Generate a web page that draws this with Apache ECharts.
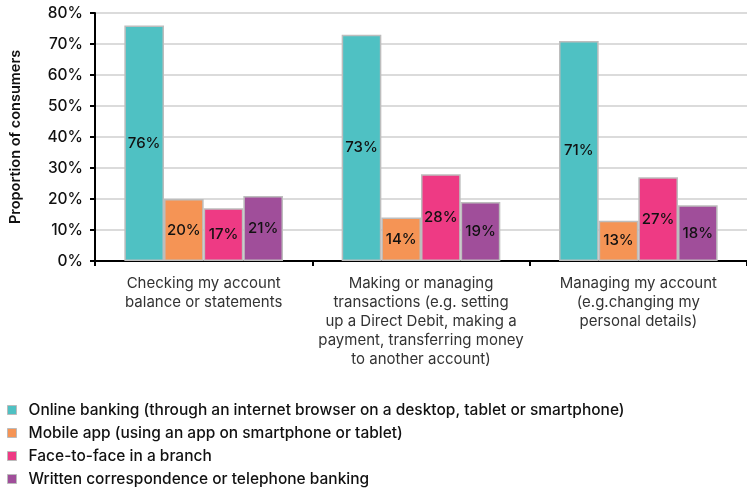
<!DOCTYPE html>
<html><head><meta charset="utf-8">
<script src="https://cdn.jsdelivr.net/npm/echarts@6/dist/echarts.min.js"></script>
<style>html,body{margin:0;padding:0;background:#fff}#c{width:747px;height:491px}</style>
</head><body><div id="c"></div>
<script>
var categories = [
  "Checking my account\nbalance or statements",
  "Making or managing\ntransactions (e.g. setting\nup a Direct Debit, making a\npayment, transferring money\nto another account)",
  "Managing my account\n(e.g.changing my\npersonal details)"
];
var seriesNames = [
  "Online banking (through an internet browser on a desktop, tablet or smartphone)",
  "Mobile app (using an app on smartphone or tablet)",
  "Face-to-face in a branch",
  "Written correspondence or telephone banking"
];
var online = [76, 73, 71];
var mobile = [20, 14, 13];
var face = [17, 28, 27];
var written = [21, 19, 18];
var colors = ["#4FC1C3", "#F59455", "#EE3A84", "#A04E9A"];
var yTicks = [0, 10, 20, 30, 40, 50, 60, 70, 80];

var values = [online, mobile, face, written];
var chart = echarts.init(document.getElementById('c'), null, {renderer: 'canvas'});
chart.setOption({
  animation: false,
  textStyle: {fontFamily: 'Inter'},
  grid: {left: 90, right: 0, top: 13, bottom: 230},
  legend: {
    orient: 'vertical', left: 7, top: 401, height: 120, padding: 0, itemGap: 5,
    itemWidth: 9, itemHeight: 9, icon: 'rect',
    itemStyle: {borderColor: '#bbbbbb', borderWidth: 1},
    textStyle: {fontSize: 15.5, fontWeight: 500, color: '#111', fontFamily: 'Inter', lineHeight: 18, padding: [0, 0, 0, 7]},
    data: seriesNames
  },
  xAxis: {
    type: 'category', data: categories,
    axisLine: {lineStyle: {color: '#000', width: 2}},
    axisTick: {show: true, lineStyle: {color: '#000', width: 2}, length: 5},
    axisLabel: {fontSize: 15, color: '#333', lineHeight: 19, margin: 13, fontFamily: 'Inter', interval: 0}
  },
  yAxis: {
    type: 'value', min: yTicks[0], max: yTicks[yTicks.length - 1], interval: 10,
    name: 'Proportion of consumers', nameLocation: 'middle', nameGap: 72,
    nameTextStyle: {fontSize: 14.5, fontWeight: 600, color: '#111'},
    axisLine: {show: true, lineStyle: {color: '#000', width: 2}},
    axisTick: {show: true, lineStyle: {color: '#000', width: 2}, length: 5},
    axisLabel: {formatter: '{value}%', fontSize: 15.5, fontWeight: 500, color: '#111', margin: 12},
    splitLine: {lineStyle: {color: '#cfcfcf', width: 1.5}}
  },
  series: seriesNames.map(function (n, i) {
    return {
      name: n, type: 'bar', data: values[i],
      barGap: '0%', barCategoryGap: '27%',
      itemStyle: {color: colors[i], borderColor: '#bdbdbd', borderWidth: 1.5},
      label: {show: true, position: 'inside', formatter: '{c}%', fontSize: 15, fontWeight: 500, color: '#111'}
    };
  })
});
</script></body></html>
